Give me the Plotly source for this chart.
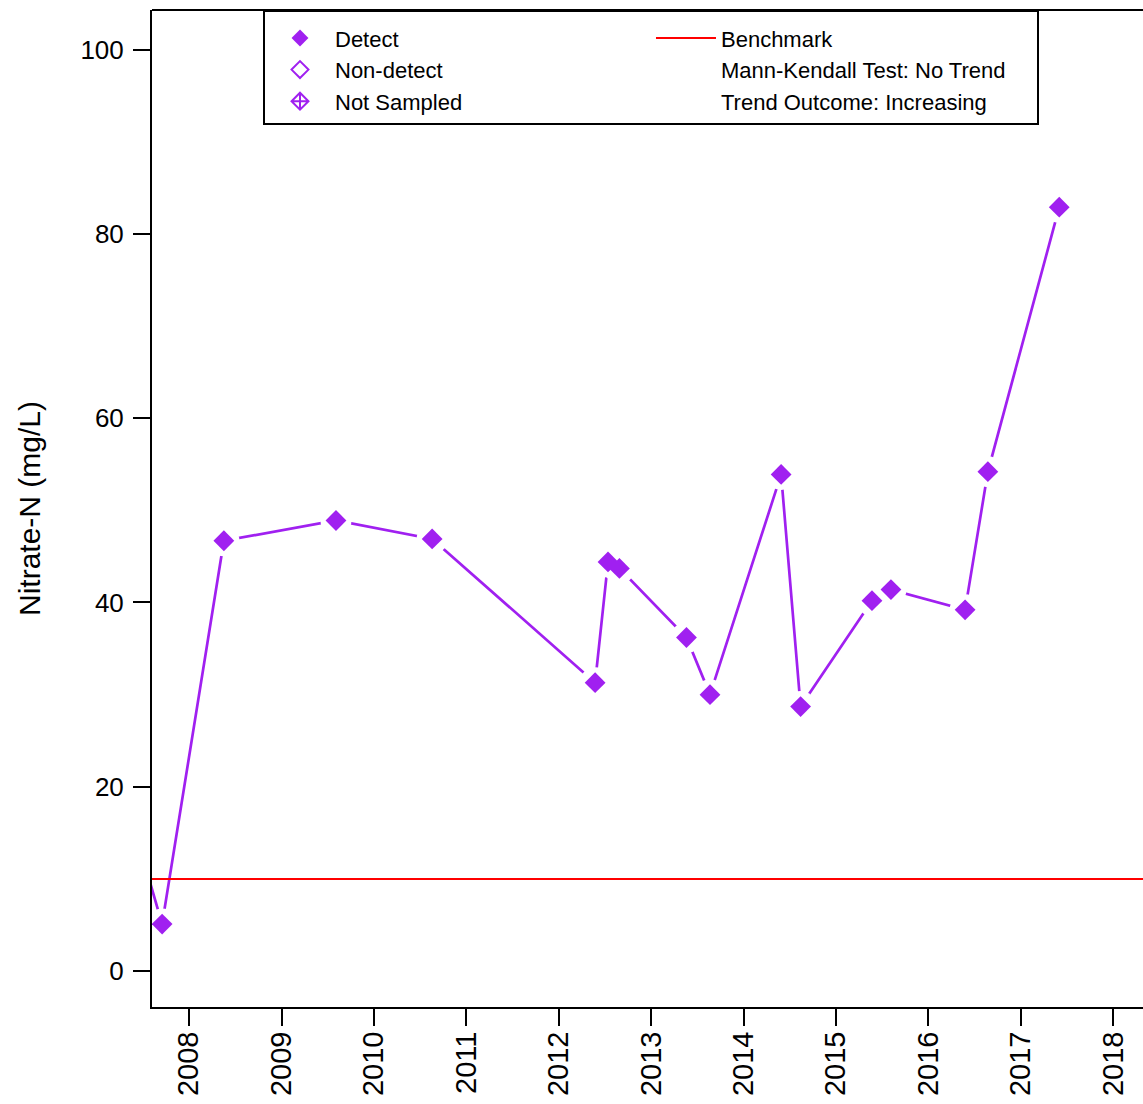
import plotly.graph_objects as go

# ---------------- data ----------------
# sample dates and Nitrate-N (mg/L) detects; the first value lies just before the
# visible x-range (only its connecting segment is visible at the left edge)
sample_dates = [
    "2007-06-15", "2007-09-17", "2008-05-18", "2009-08-04", "2010-08-19",
    "2012-05-24", "2012-07-14", "2012-08-28", "2013-05-20", "2013-08-21",
    "2014-05-29", "2014-08-14", "2015-05-23", "2015-08-06", "2016-05-25",
    "2016-08-23", "2017-06-01",
]
nitrate_values = [
    14.0, 5.1, 46.7, 48.9, 46.9,
    31.3, 44.4, 43.7, 36.2, 30.0,
    53.9, 28.7, 40.2, 41.4, 39.2,
    54.2, 82.9,
]
benchmark_value = 10
y_tick_values = [0, 20, 40, 60, 80, 100]
x_tick_years = ["2008", "2009", "2010", "2011", "2012", "2013",
                "2014", "2015", "2016", "2017", "2018"]
x_range = ["2007-08-08", "2018-04-28"]
y_range = [-3.9, 104.3]

legend_left = ["Detect", "Non-detect", "Not Sampled"]
legend_right = ["Benchmark", "Mann-Kendall Test: No Trend", "Trend Outcome: Increasing"]

PURPLE = "#A020F0"
RED = "#FF0000"
FONT = "Liberation Sans, Arial, sans-serif"

fig = go.Figure()

# connecting line
fig.add_trace(go.Scatter(x=sample_dates, y=nitrate_values, mode="lines",
                         line=dict(color=PURPLE, width=2.7), showlegend=False,
                         hoverinfo="skip"))
# white halos to create gaps in the line around each point (R type="b" look)
fig.add_trace(go.Scatter(x=sample_dates, y=nitrate_values, mode="markers",
                         marker=dict(symbol="circle", size=31, color="white",
                                     line=dict(width=0)),
                         showlegend=False, hoverinfo="skip"))
# detect markers
fig.add_trace(go.Scatter(x=sample_dates, y=nitrate_values, mode="markers",
                         marker=dict(symbol="diamond", size=16, color=PURPLE,
                                     line=dict(width=0)),
                         showlegend=False))

# benchmark
fig.add_hline(y=benchmark_value, line=dict(color=RED, width=2), layer="above")

# top frame line
fig.add_shape(type="line", xref="paper", yref="paper", x0=0, x1=1, y0=1, y1=1,
              line=dict(color="black", width=2))

# legend entries (legend-only traces), ordered row-wise for a 2-column legend
legend_styles_left = [
    dict(mode="markers", marker=dict(symbol="diamond", size=13, color=PURPLE)),
    dict(mode="markers", marker=dict(symbol="diamond-open", size=13, color=PURPLE,
                                     line=dict(width=2, color=PURPLE))),
    dict(mode="markers", marker=dict(symbol="diamond-cross-open", size=13, color=PURPLE,
                                     line=dict(width=2, color=PURPLE))),
]
legend_styles_right = [
    dict(mode="lines", line=dict(color=RED, width=2)),
    dict(mode="markers", marker=dict(size=1, color="rgba(0,0,0,0)")),
    dict(mode="markers", marker=dict(size=1, color="rgba(0,0,0,0)")),
]
for i in range(3):
    fig.add_trace(go.Scatter(x=[None], y=[None], name=legend_left[i],
                             showlegend=True, **legend_styles_left[i]))
    fig.add_trace(go.Scatter(x=[None], y=[None], name=legend_right[i],
                             showlegend=True, **legend_styles_right[i]))

fig.update_layout(
    width=1143, height=1104,
    margin=dict(l=152, r=0, t=10, b=97, autoexpand=False),
    paper_bgcolor="white", plot_bgcolor="white",
    font=dict(family=FONT, color="black"),
    showlegend=True,
    legend=dict(
        orientation="h", x=0.112, xanchor="left", y=1, yanchor="top",
        bordercolor="black", borderwidth=2, bgcolor="white",
        font=dict(size=22, family=FONT, color="black"),
        title=dict(text=" ", side="top", font=dict(size=4)),
        itemwidth=60, entrywidth=311, itemclick=False,
        traceorder="normal",
    ),
    xaxis=dict(
        type="date", range=x_range, automargin=False,
        tickmode="array", tickvals=[y + "-01-01" for y in x_tick_years],
        ticktext=x_tick_years, tickangle=-90,
        tickfont=dict(size=29, family=FONT, color="black"),
        showline=True, linecolor="black", linewidth=2, mirror=False,
        ticks="outside", ticklen=17, tickwidth=2, tickcolor="black",
        showgrid=False, zeroline=False, ticklabelstandoff=-6,
    ),
    yaxis=dict(
        range=y_range, automargin=False, tickmode="array", tickvals=y_tick_values,
        tickfont=dict(size=26, family=FONT, color="black"),
        showline=True, linecolor="black", linewidth=2,
        ticks="outside", ticklen=17, tickwidth=2, tickcolor="black",
        showgrid=False, zeroline=False, ticklabelstandoff=4,
        title=dict(text="Nitrate-N (mg/L)", font=dict(size=30, family=FONT, color="black"),
                   standoff=31),
    ),
)

fig.write_html("out.html", config={"displayModeBar": False},
               post_script="document.body.style.margin='0';")
